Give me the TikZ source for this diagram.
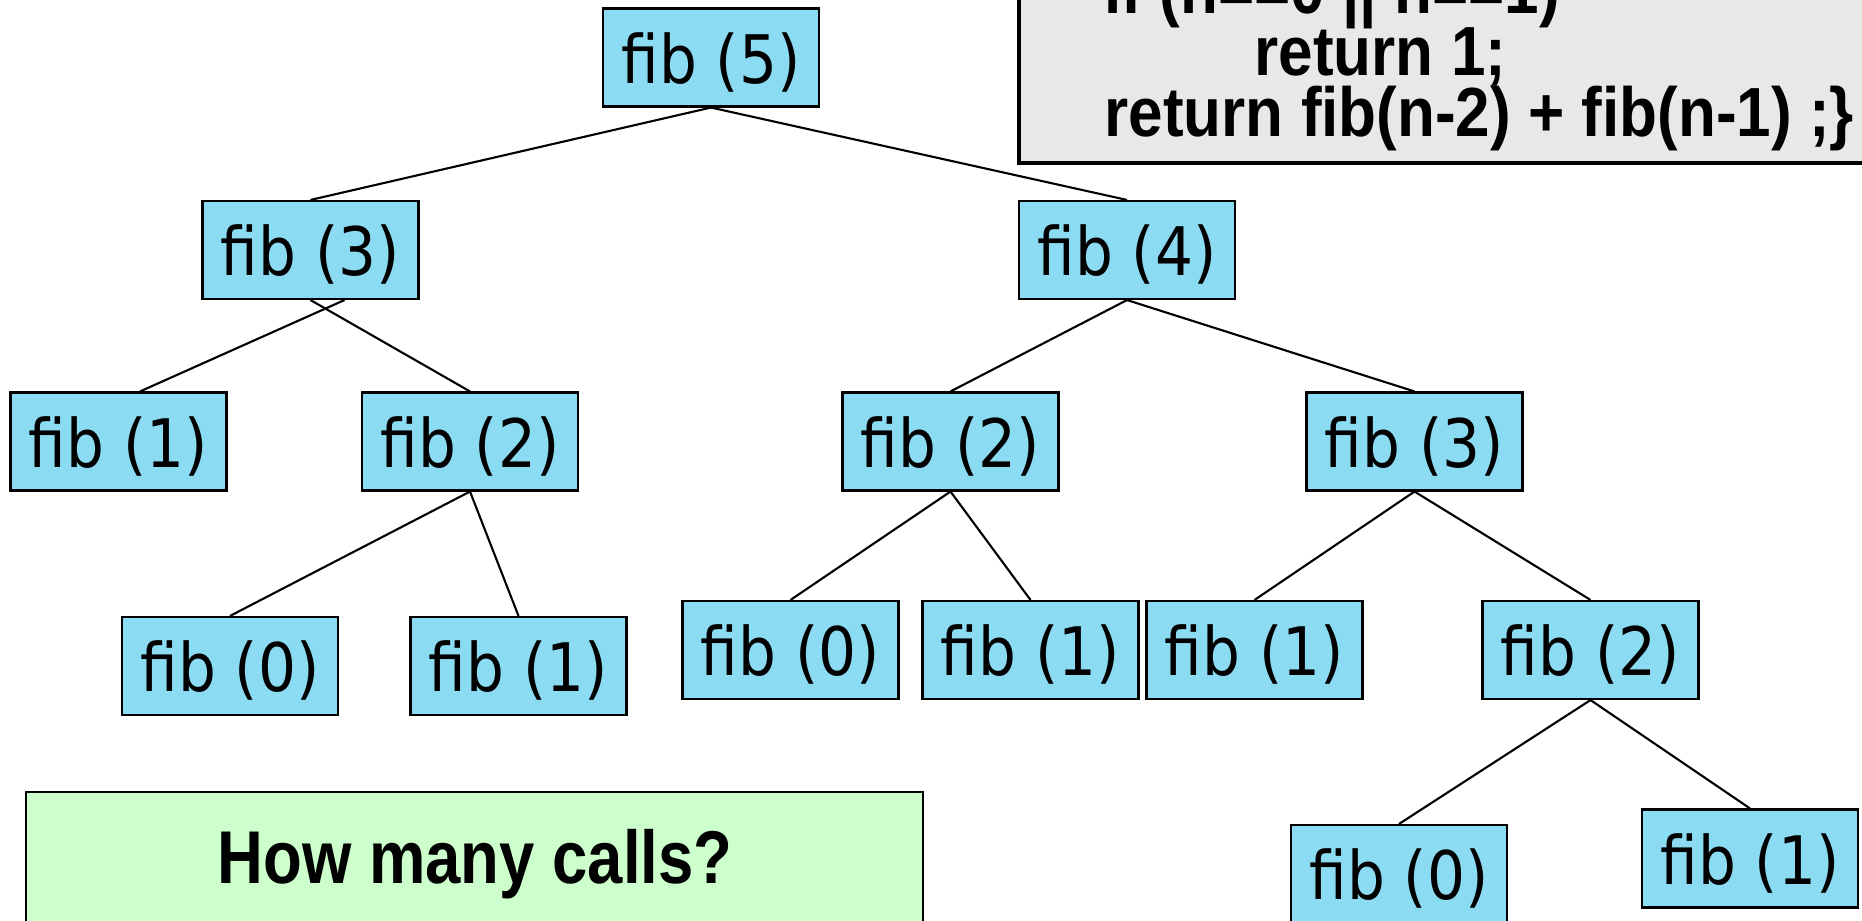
\documentclass[tikz,border=0pt]{standalone}
\usepackage{fontspec}
\setmainfont{DejaVu Sans}
\newfontfamily\codefont{Liberation Sans}
\definecolor{callblue}{HTML}{8BDBF3}
\definecolor{notegreen}{HTML}{CCFFCC}
\definecolor{codegray}{HTML}{E8E8E8}
% the slide is a little stretched upwards
\newcommand{\fibof}[1]{\scalebox{1}[1.12]{fib (#1)}}
\newcommand{\codetext}[1]{\scalebox{0.98}[1.1]{#1}}
\begin{document}
\begin{tikzpicture}[
    fibbox/.style={draw,fill=callblue,line width=0.6pt,minimum width=2.16cm,
        minimum height=0.98cm,inner sep=0pt,text height=15pt,text depth=0.4pt,
        font=\fontsize{17}{20}\selectfont},
    codeline/.style={anchor=base west,inner sep=0pt,font=\codefont\bfseries\fontsize{18}{20}\selectfont},
    call/.style={line width=0.6pt}]
    \clip (0,0) rectangle (18.62,-9.21);
    % the code
    \draw[fill=codegray,line width=1.3pt] (10.19,0.5) rectangle (19,-1.63);
    \node[codeline] (l1) at (11.04,-0.14) {\codetext{if (n==0 || n==1)}};
    \node[codeline] (l2) at (12.54,-0.76) {\codetext{return 1;}};
    \node[codeline] (l3) at (11.04,-1.37) {\codetext{return fib(n-2) + fib(n-1) ;\}}};
    % the calls
    \node[fibbox] (f5) at (7.11,-0.575) {\fibof{5}};
    \node[fibbox] (f3a) at (3.105,-2.5) {\fibof{3}};
    \node[fibbox] (f4) at (11.27,-2.5) {\fibof{4}};
    \node[fibbox] (f1a) at (1.185,-4.415) {\fibof{1}};
    \node[fibbox] (f2a) at (4.70,-4.415) {\fibof{2}};
    \node[fibbox] (f2b) at (9.505,-4.415) {\fibof{2}};
    \node[fibbox] (f3b) at (14.145,-4.415) {\fibof{3}};
    \node[fibbox] (f0a) at (2.30,-6.66) {\fibof{0}};
    \node[fibbox] (f1b) at (5.185,-6.66) {\fibof{1}};
    \node[fibbox] (f0b) at (7.905,-6.50) {\fibof{0}};
    \node[fibbox] (f1c) at (10.305,-6.50) {\fibof{1}};
    \node[fibbox] (f1d) at (12.545,-6.50) {\fibof{1}};
    \node[fibbox] (f2c) at (15.905,-6.50) {\fibof{2}};
    \node[fibbox] (f0c) at (13.99,-8.74) {\fibof{0}};
    \node[fibbox] (f1e) at (17.50,-8.585) {\fibof{1}};
    \draw[call] (f5.south) -- (f3a.north);
    \draw[call] (f5.south) -- (f4.north);
    \draw[call] ([xshift=0.34cm]f3a.south) -- ([xshift=0.215cm]f1a.north);
    \draw[call] (f3a.south) -- (f2a.north);
    \draw[call] (f2a.south) -- (f0a.north);
    \draw[call] (f2a.south) -- (f1b.north);
    \draw[call] (f4.south) -- (f2b.north);
    \draw[call] (f4.south) -- (f3b.north);
    \draw[call] (f2b.south) -- (f0b.north);
    \draw[call] (f2b.south) -- (f1c.north);
    \draw[call] (f3b.south) -- (f1d.north);
    \draw[call] (f3b.south) -- (f2c.north);
    \draw[call] (f2c.south) -- (f0c.north);
    \draw[call] (f2c.south) -- (f1e.north);
    % the question
    \draw[fill=notegreen,line width=0.6pt] (0.26,-7.92) rectangle (9.23,-9.6);
    \node[font=\codefont\bfseries\fontsize{19}{22}\selectfont] (q) at (4.75,-8.64)
        {\scalebox{0.95}[1.12]{How many calls?}};
\end{tikzpicture}
\end{document}
